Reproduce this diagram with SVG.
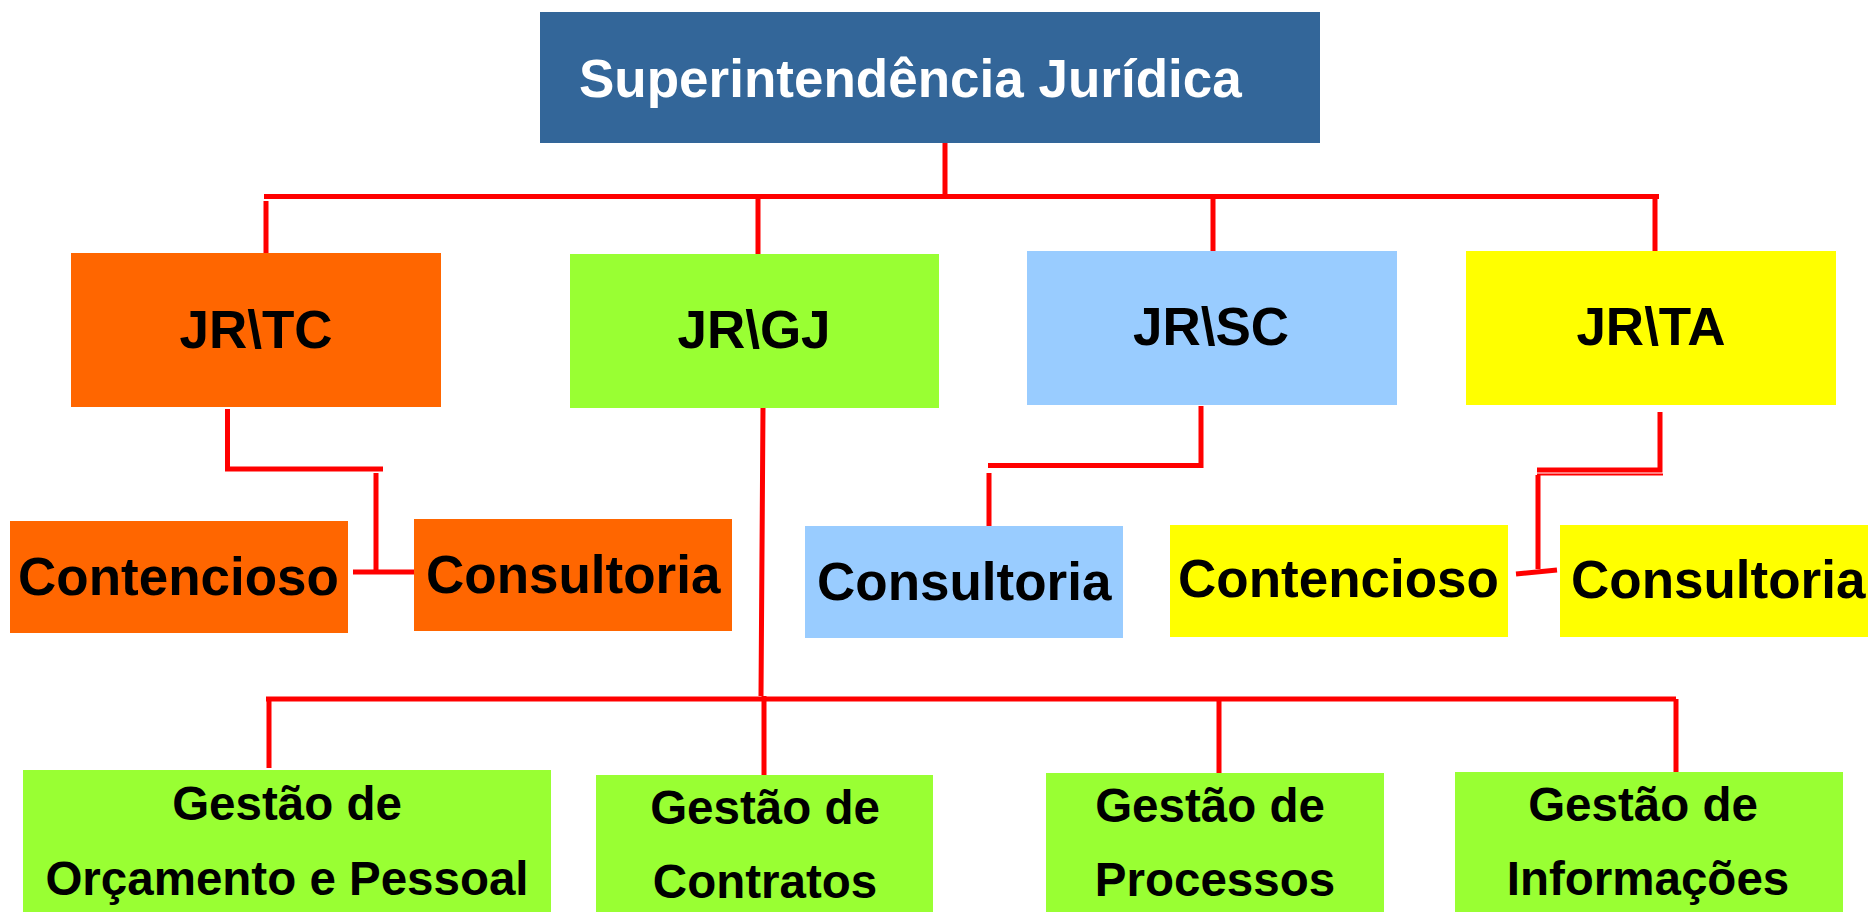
<svg xmlns="http://www.w3.org/2000/svg" width="1868" height="912" viewBox="0 0 1868 912">
<style>
text{font-family:"Liberation Sans",Arial,sans-serif;font-weight:bold;fill:#000}
.t{font-size:53px}
.s{font-size:47.5px;text-anchor:middle}
.c{text-anchor:middle}
.ln{stroke:#FF0000;stroke-width:5;fill:none}
.org{fill:#FF6600}.grn{fill:#99FF33}.blu{fill:#99CCFF}.yel{fill:#FFFF00}
</style>
<rect width="1868" height="912" fill="#fff"/>
<g id="connectors">
<path class="ln" d="M945,139V196.5M264,196.5H1659M266,201V257M758,199V255M1213,199V253M1655,199V253"/>
<path class="ln" d="M227.5,409V469H383M376,473V572M353,572H415"/>
<path class="ln" d="M763,407L761,696M764,696V779"/>
<path class="ln" d="M266,699H1676M269,699V768M1219,699V773M1676,699V773"/>
<path class="ln" d="M1201,406V465.5H988M989,473V528"/>
<path class="ln" d="M1660,412V470H1537M1538,475V569M1516,574L1557,570"/>
<path stroke="#FF0000" stroke-width="2" d="M1537,474.5H1663"/>
</g>
<g id="sup"><rect x="540" y="12" width="780" height="131" fill="#336699"/><text x="579" y="97" style="font-size:53px;fill:#fff">Superintendência Jurídica</text></g>
<g id="jrtc"><rect class="org" x="71" y="253" width="370" height="154"/><text class="t c" x="256" y="348">JR\TC</text></g>
<g id="jrgj"><rect class="grn" x="570" y="254" width="369" height="154"/><text class="t c" x="754" y="348">JR\GJ</text></g>
<g id="jrsc"><rect class="blu" x="1027" y="251" width="370" height="154"/><text class="t c" x="1211" y="345">JR\SC</text></g>
<g id="jrta"><rect class="yel" x="1466" y="251" width="370" height="154"/><text class="t c" x="1651" y="345">JR\TA</text></g>
<g id="tc-cont"><rect class="org" x="10" y="521" width="338" height="112"/><text class="t" x="18" y="595">Contencioso</text></g>
<g id="tc-cons"><rect class="org" x="414" y="519" width="318" height="112"/><text class="t" x="426" y="593">Consultoria</text></g>
<g id="sc-cons"><rect class="blu" x="805" y="526" width="318" height="112"/><text class="t" x="817" y="600">Consultoria</text></g>
<g id="ta-cont"><rect class="yel" x="1170" y="525" width="338" height="112"/><text class="t" x="1178" y="597">Contencioso</text></g>
<g id="ta-cons"><rect class="yel" x="1560" y="525" width="308" height="112"/><text class="t" x="1571" y="598">Consultoria</text></g>
<g id="orc"><rect class="grn" x="23" y="770" width="528" height="142"/><text class="s" x="287" y="820">Gestão de</text><text class="s" x="287" y="895">Orçamento e Pessoal</text></g>
<g id="contr"><rect class="grn" x="596" y="775" width="337" height="137"/><text class="s" x="765" y="824">Gestão de</text><text class="s" x="765" y="898">Contratos</text></g>
<g id="proc"><rect class="grn" x="1046" y="773" width="338" height="139"/><text class="s" x="1210" y="822">Gestão de</text><text class="s" x="1215" y="896">Processos</text></g>
<g id="info"><rect class="grn" x="1455" y="772" width="388" height="140"/><text class="s" x="1643" y="821">Gestão de</text><text class="s" x="1648" y="895">Informações</text></g>
</svg>
